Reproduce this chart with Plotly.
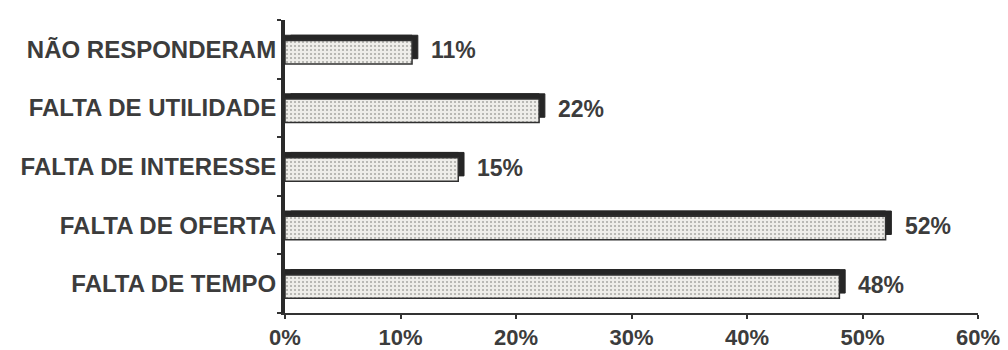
import plotly.graph_objects as go

categories = ["FALTA DE TEMPO", "FALTA DE OFERTA", "FALTA DE INTERESSE", "FALTA DE UTILIDADE", "NÃO RESPONDERAM"]
values = [48, 52, 15, 22, 11]
value_labels = ["48%", "52%", "15%", "22%", "11%"]
tick_vals = [0, 10, 20, 30, 40, 50, 60]
tick_text = ["0%", "10%", "20%", "30%", "40%", "50%", "60%"]

FONT = "Liberation Sans, Arial"
TEXT_COLOR = "#3c3c3c"
SHADOW = "#262626"
n = len(categories)
x_range = [0, 60]
y_range = [-0.5, n - 0.5]
# 3D depth of the bars (axis units)
dx, dy = 0.5, 0.09
bar_w = 0.40
face_off = -bar_w / 2 - 0.05

fig = go.Figure()
# dark depth strip along the top (aligned with the axis)
fig.add_trace(go.Bar(
    y=categories, x=values, orientation="h", xaxis="x", yaxis="y",
    width=bar_w, offset=face_off + dy,
    marker=dict(color=SHADOW, line=dict(color=SHADOW, width=1)),
    hoverinfo="skip",
))
# dark depth shifted to the right (right-hand side of the 3D bar)
fig.add_trace(go.Bar(
    y=categories, x=values, orientation="h", xaxis="x2", yaxis="y2",
    width=bar_w, offset=face_off + dy,
    marker=dict(color=SHADOW, line=dict(color=SHADOW, width=1)),
    hoverinfo="skip",
))
# light speckled front face
fig.add_trace(go.Bar(
    y=categories, x=values, orientation="h", xaxis="x3", yaxis="y3",
    width=bar_w, offset=face_off,
    marker=dict(
        color="#eeede9", line=dict(color="#303030", width=1.5),
        pattern=dict(shape=".", fgcolor="#a6a6a2", bgcolor="#eeede9",
                     size=4, solidity=0.2, fillmode="replace"),
    ),
))

for cat, v, lab in zip(categories, values, value_labels):
    fig.add_annotation(
        x=v, y=cat, xref="x", yref="y", text=lab, showarrow=False,
        xanchor="left", yanchor="middle", xshift=17, yshift=-1,
        font=dict(family=FONT, size=23, color=TEXT_COLOR, weight="bold"),
    )

hidden = dict(visible=False, showgrid=False, zeroline=False)
fig.update_layout(
    width=1008, height=350,
    margin=dict(l=285, r=30, t=20, b=37, autoexpand=False),
    paper_bgcolor="white", plot_bgcolor="white",
    showlegend=False, barmode="overlay",
    font=dict(family=FONT, size=23, color=TEXT_COLOR),
    xaxis=dict(
        range=x_range, tickvals=tick_vals, ticktext=tick_text,
        showgrid=False, zeroline=False, automargin=False,
        showline=True, linecolor="#333333", linewidth=2,
        ticks="outside", ticklen=4, tickcolor="#333333", tickwidth=2,
        tickfont=dict(family=FONT, size=22, color=TEXT_COLOR, weight="bold"),
    ),
    yaxis=dict(
        type="category", categoryarray=categories, range=y_range,
        showgrid=False, zeroline=False, automargin=False,
        showline=True, linecolor="#2a2a2a", linewidth=4,
        ticks="outside", ticklen=4, tickcolor="#333333", tickwidth=2,
        tickson="boundaries",
        tickfont=dict(family=FONT, size=24, color=TEXT_COLOR, weight="bold"),
    ),
    xaxis2=dict(overlaying="x", range=[x_range[0] - dx, x_range[1] - dx], **hidden),
    yaxis2=dict(overlaying="y", type="category", categoryarray=categories,
                range=y_range, **hidden),
    xaxis3=dict(overlaying="x", range=x_range, **hidden),
    yaxis3=dict(overlaying="y", type="category", categoryarray=categories,
                range=y_range, **hidden),
)
fig.write_html("out.html", config={"displayModeBar": False},
               post_script="document.body.style.margin='0';")
